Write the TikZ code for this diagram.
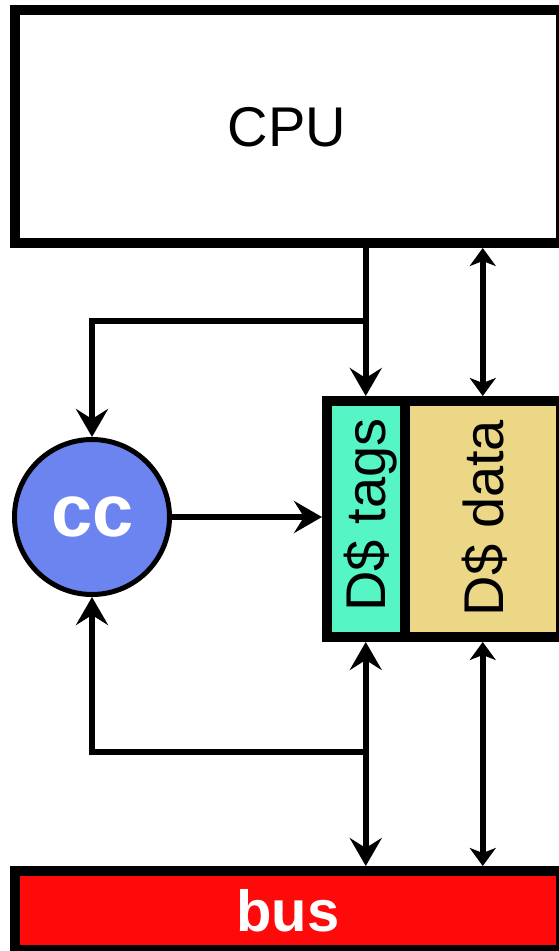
\documentclass[tikz,border=0pt]{standalone}
\usepackage{fontspec}
\setmainfont{Liberation Sans}
\usetikzlibrary{arrows.meta}
\definecolor{tagc}{RGB}{85,245,197}
\definecolor{datac}{RGB}{235,215,134}
\definecolor{ccfill}{RGB}{107,132,240}
\definecolor{busc}{RGB}{255,10,10}
\tikzset{
  box/.style={draw=black,line width=10pt,rectangle,inner sep=0pt},
  lbl/.style={inner sep=0pt,anchor=mid},
  bigtip/.tip={Stealth[length=28pt,width=32pt,inset=10pt]},
  smalltip/.tip={Stealth[length=18pt,width=26pt,inset=5pt]},
  arrbig/.style={line width=6pt,-bigtip},
  arrbigboth/.style={line width=6pt,bigtip-bigtip},
  arrsmallboth/.style={line width=6pt,smalltip-smalltip},
}
\begin{document}
\begin{tikzpicture}[x=1pt,y=-1pt]
\useasboundingbox (0,0) rectangle (559,951);
\clip (0,0) rectangle (559,951);
\fill[white] (0,0) rectangle (559,951);
% CPU
\node[box,fill=white,minimum width=546.5pt,minimum height=233pt] (cpu) at (287.75,126.5) {};
\node[lbl,font=\fontsize{56}{60}\selectfont] (cputxt) at (287,143.5) {CPU};
% cache
\node[box,fill=tagc,minimum width=77.5pt,minimum height=236pt] (tags) at (365.75,519) {};
\node[box,fill=datac,minimum width=156.5pt,minimum height=236pt] (data) at (482.75,519) {};
\node[lbl,rotate=90,font=\fontsize{56}{60}\selectfont] (tagstxt) at (382.5,515) {D\$ tags};
\node[lbl,rotate=90,font=\fontsize{56}{60}\selectfont] (datatxt) at (500.5,518) {D\$ data};
% cc
\node[circle,draw=black,line width=5pt,fill=ccfill,minimum size=155pt,inner sep=0pt] (cc) at (92,517) {};
\node[lbl,text=white,font=\fontsize{74}{78}\selectfont\bfseries] (cctxt) at (92.5,534) {cc};
% bus
\node[box,fill=busc,minimum width=546pt,minimum height=79pt] (bus) at (288,910.5) {};
\node[lbl,text=white,font=\fontsize{58}{62}\selectfont\bfseries] (bustxt) at (288,929) {bus};
% connectors
\coordinate (j1) at (365.75,321);
\coordinate (j2) at (365.75,752);
\draw[arrbig] (cpu.south -| tags.north) -- (tags.north);
\draw[arrsmallboth] (cpu.south -| data.north) -- (data.north);
\draw[arrbig] (j1) -| (cc.north);
\draw[arrbig] (cc.east) -- (cc.east -| tags.west);
\draw[arrbigboth] (tags.south) -- (tags.south |- bus.north);
\draw[arrsmallboth] (data.south) -- (data.south |- bus.north);
\draw[arrbig] (j2) -| (cc.south);
\end{tikzpicture}
\end{document}
